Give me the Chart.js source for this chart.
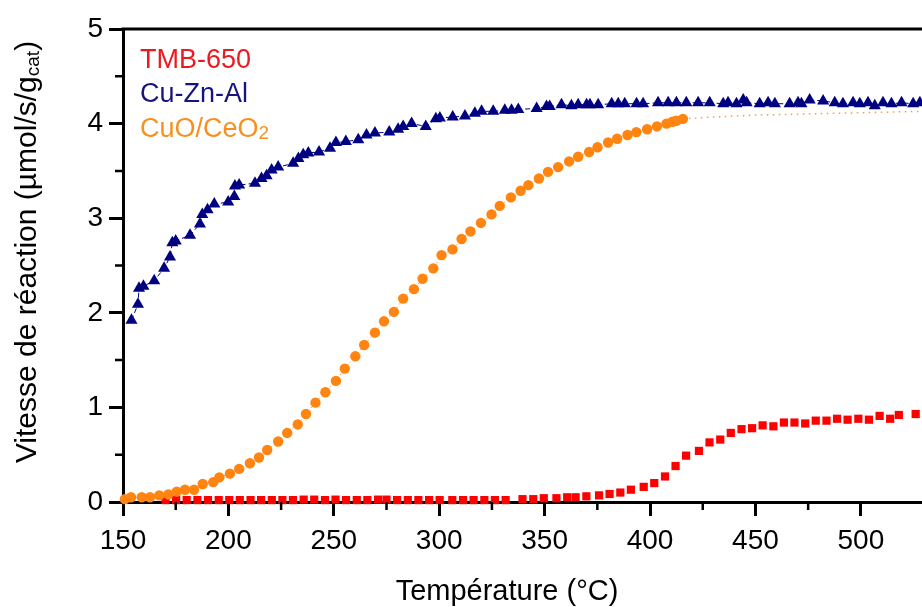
<!DOCTYPE html>
<html>
<head>
<meta charset="utf-8">
<title>Vitesse de réaction</title>
<script src="https://cdn.jsdelivr.net/npm/chart.js@4"></script>
<style>
  html, body { margin: 0; padding: 0; background: #fff; overflow: hidden; }
  #wrap { width: 922px; height: 607px; position: relative; }
</style>
</head>
<body>
<div id="wrap"><canvas id="chart"></canvas></div>
<script>
// axis range and ticks
const xMin = 150, xMax = 529;
const yMin = 0, yMax = 5;
const xMinor = [175, 225, 275, 325, 375, 425, 475];
const yMinor = [0.5, 1.5, 2.5, 3.5, 4.5];

// TMB-650 (red squares)
const tmbT = [170.2, 175.2, 180.2, 185.3, 190.3, 195.4, 200.4, 205.4, 210.5, 215.5, 220.6, 225.6, 230.6, 235.7, 240.7,
  245.8, 250.8, 255.8, 260.9, 265.9, 271, 275, 280, 285.1, 290.1, 295.2, 300.2, 306.2, 311.3, 316.3, 321.4, 326.4,
  331.5, 339.5, 344.6, 349.6, 355.6, 360.7, 364.7, 369.8, 375.8, 380.8, 385.9, 390.9, 397, 402, 407.1, 412.1, 417.1,
  423.2, 428.2, 433.3, 438.3, 443.4, 448.4, 453.4, 458.5, 463.5, 468.5, 473.6, 478.6, 483.7, 488.7, 493.7, 498.8,
  503.8, 508.9, 513.9, 518, 526];
const tmbV = [0.02, 0.02, 0.02, 0.02, 0.02, 0.02, 0.02, 0.02, 0.02, 0.02, 0.02, 0.02, 0.02, 0.025, 0.025,
  0.02, 0.025, 0.02, 0.02, 0.02, 0.025, 0.025, 0.02, 0.02, 0.02, 0.02, 0.02, 0.02, 0.02, 0.02, 0.02, 0.02,
  0.02, 0.03, 0.03, 0.04, 0.04, 0.05, 0.05, 0.06, 0.07, 0.085, 0.10, 0.13, 0.16, 0.20, 0.27, 0.38, 0.49,
  0.54, 0.63, 0.66, 0.73, 0.77, 0.78, 0.81, 0.80, 0.84, 0.84, 0.83, 0.86, 0.86, 0.88, 0.87, 0.88,
  0.87, 0.91, 0.88, 0.92, 0.93];

// Cu-Zn-Al (navy triangles)
const cznT = [154, 157.1, 157.6, 159.7, 164.8, 169.5, 172.3, 173.4, 175, 181.8, 186.5, 187.6, 190.1, 193.3, 199.9,
  202.8, 203.1, 205.1, 212.6, 215.7, 218.1, 220.5, 223.6, 230.7, 233.2, 235.5, 237.9, 243, 248.2, 251,
  255.7, 261.6, 265.5, 269.5, 276.3, 280.5, 282.9, 286.9, 293.6, 298.4, 300.3, 306.4, 312.2, 316.9, 320.1,
  325.6, 331.1, 334.3, 337.5, 346.2, 350.9, 352.4, 358, 362.7, 365.9, 369.9, 371.5, 375.4, 381.8, 384.9,
  388, 393.6, 396.7, 403.8, 408.6, 412.5, 417.2, 422.8, 428.3, 434.7, 437, 441, 444.2, 445.8, 452,
  456, 459.2, 466.2, 470.2, 471.8, 475.7, 482.1, 487.6, 491.5, 496.3, 499.5, 503.4, 506.6, 510.5, 514.5,
  519.3, 524.8, 528];
const cznV = [1.92, 2.09, 2.26, 2.28, 2.34, 2.47, 2.59, 2.74, 2.76, 2.82, 2.94, 3.04, 3.09, 3.15, 3.17,
  3.23, 3.34, 3.35, 3.37, 3.42, 3.45, 3.51, 3.54, 3.58, 3.63, 3.67, 3.69, 3.70, 3.74, 3.80,
  3.81, 3.83, 3.88, 3.90, 3.91, 3.94, 3.97, 4.00, 3.97, 4.05, 4.06, 4.07, 4.08, 4.11, 4.13,
  4.13, 4.14, 4.14, 4.15, 4.16, 4.18, 4.18, 4.20, 4.19, 4.20, 4.20, 4.20, 4.20, 4.21, 4.21,
  4.21, 4.21, 4.21, 4.22, 4.22, 4.22, 4.22, 4.22, 4.22, 4.21, 4.22, 4.21, 4.25, 4.22, 4.21,
  4.22, 4.21, 4.21, 4.22, 4.21, 4.25, 4.24, 4.22, 4.21, 4.22, 4.21, 4.22, 4.19, 4.22, 4.21,
  4.22, 4.21, 4.22];

// CuO/CeO2 (orange circles) and its dotted extension
const cuoT = [150.9, 153.8, 158.9, 162.8, 167.2, 171.5, 175.5, 179.4, 183.7, 187.8, 192.8, 195.7, 200.7, 205.1, 210.2,
  214.5, 218.4, 223.6, 227.9, 232.9, 236.8, 241.3, 246, 251, 255.2, 260.2, 264.4, 269.5, 273.8, 278.5,
  282.9, 288, 292.1, 297.2, 301.1, 306.3, 310.6, 314.8, 319.8, 324.8, 328.7, 334, 338.6, 342.3, 347.3,
  351.6, 356.4, 361.6, 365.9, 371.1, 375.1, 380.1, 384.4, 389.3, 393.5, 398.6, 403.3, 407.8, 410.6, 412.5, 415.6];
const cuoV = [0.03, 0.05, 0.05, 0.05, 0.07, 0.08, 0.11, 0.13, 0.13, 0.19, 0.21, 0.26, 0.30, 0.35, 0.41,
  0.47, 0.55, 0.64, 0.73, 0.82, 0.93, 1.05, 1.16, 1.28, 1.41, 1.54, 1.66, 1.79, 1.91, 2.01,
  2.15, 2.25, 2.36, 2.47, 2.61, 2.67, 2.78, 2.86, 2.95, 3.04, 3.13, 3.22, 3.29, 3.35, 3.42,
  3.49, 3.54, 3.60, 3.65, 3.70, 3.75, 3.80, 3.84, 3.88, 3.91, 3.94, 3.97, 4.00, 4.02, 4.03, 4.05];
const cuoFitT = [415.6, 430, 450, 470, 490, 510, 529];
const cuoFitV = [4.05, 4.07, 4.09, 4.10, 4.11, 4.12, 4.13];

const legendNames = ['TMB-650', 'Cu-Zn-Al', 'CuO/CeO'];
const legendColors = ['#ea1a22', '#15157c', '#f7901e'];

function pts(t, v) {
    return t.map((x, i) => ({ x: x, y: v[i] }));
}

Chart.defaults.font.family = '"Liberation Sans", Arial, sans-serif';
Chart.defaults.color = '#000';

// top frame, minor ticks, axis titles and the in-plot legend
const decor = {
    id: 'decor',
    afterDraw(chart) {
        const { ctx, chartArea: a, scales: { x, y } } = chart;
        ctx.save();
        ctx.strokeStyle = '#000';
        ctx.lineWidth = 3;
        ctx.beginPath();
        ctx.moveTo(a.left - 1.5, a.top);
        ctx.lineTo(a.right, a.top);
        ctx.stroke();

        ctx.lineWidth = 2.5;
        ctx.beginPath();
        xMinor.forEach(v => {
            const px = x.getPixelForValue(v);
            ctx.moveTo(px, a.bottom);
            ctx.lineTo(px, a.bottom + 8);
        });
        yMinor.forEach(v => {
            const py = y.getPixelForValue(v);
            ctx.moveTo(a.left, py);
            ctx.lineTo(a.left - 8, py);
        });
        ctx.stroke();

        // x title
        ctx.fillStyle = '#000';
        ctx.font = '29px "Liberation Sans", Arial, sans-serif';
        ctx.textAlign = 'center';
        ctx.textBaseline = 'middle';
        ctx.fillText('Température (°C)', 507, 592);

        // y title with subscript
        const main = 'Vitesse de réaction (µmol/s/g';
        const big = '30px "Liberation Sans", Arial, sans-serif';
        const small = '19px "Liberation Sans", Arial, sans-serif';
        ctx.font = big;
        const w1 = ctx.measureText(main).width;
        const w3 = ctx.measureText(')').width;
        ctx.font = small;
        const w2 = ctx.measureText('cat').width;
        const total = w1 + w2 + w3;
        ctx.translate(28, 252);
        ctx.rotate(-Math.PI / 2);
        ctx.textAlign = 'left';
        ctx.textBaseline = 'middle';
        let cx = -total / 2;
        ctx.font = big;
        ctx.fillText(main, cx, 0);
        cx += w1;
        ctx.font = small;
        ctx.fillText('cat', cx, 6);
        cx += w2;
        ctx.font = big;
        ctx.fillText(')', cx, 0);
        ctx.setTransform(1, 0, 0, 1, 0, 0);

        // legend
        ctx.textAlign = 'left';
        ctx.textBaseline = 'middle';
        const offs = [32, 66, 101];
        legendNames.forEach((name, i) => {
            ctx.fillStyle = legendColors[i];
            ctx.font = '27px "Liberation Sans", Arial, sans-serif';
            const lx = a.left + 17, ly = a.top + offs[i];
            ctx.fillText(name, lx, ly);
            if (i === 2) {
                const w = ctx.measureText(name).width;
                ctx.font = '19px "Liberation Sans", Arial, sans-serif';
                ctx.fillText('2', lx + w, ly + 4);
            }
        });
        ctx.restore();
    }
};

const axisBase = {
    type: 'linear',
    border: { display: true, color: '#000', width: 3 },
    grid: { display: true, drawOnChartArea: false, drawTicks: true, tickLength: 14, tickWidth: 3, tickColor: '#000' },
};

const ctx = document.getElementById('chart').getContext('2d');
new Chart(ctx, {
    type: 'scatter',
    data: {
        datasets: [
            {
                label: 'CuO/CeO2',
                data: pts(cuoT, cuoV),
                showLine: true,
                borderColor: '#ff8410',
                borderWidth: 1,
                borderDash: [1, 3],
                backgroundColor: '#ff8410',
                pointStyle: 'circle',
                pointRadius: 5.2,
                pointBorderWidth: 0,
                clip: false,
                order: 1
            },
            {
                label: 'CuO/CeO2 fit',
                data: pts(cuoFitT, cuoFitV),
                showLine: true,
                borderColor: '#ff9a3c',
                borderWidth: 1.5,
                borderDash: [1.5, 4.5],
                pointRadius: 0,
                order: 2
            },
            {
                label: 'TMB-650',
                data: pts(tmbT, tmbV),
                backgroundColor: '#ff0000',
                borderColor: '#ff0000',
                pointStyle: 'rect',
                pointRadius: 5.8,
                pointBorderWidth: 0,
                clip: false,
                order: 3
            },
            {
                label: 'Cu-Zn-Al',
                data: pts(cznT, cznV),
                showLine: true,
                borderColor: '#000080',
                borderWidth: 1,
                borderDash: [5, 3],
                backgroundColor: '#000080',
                pointStyle: 'triangle',
                pointRadius: 7,
                pointBorderWidth: 0,
                clip: false,
                order: 4
            }
        ]
    },
    options: {
        responsive: true,
        maintainAspectRatio: false,
        animation: false,
        layout: { autoPadding: false, padding: { top: 29, right: 0, bottom: 0, left: 0 } },
        plugins: {
            legend: { display: false },
            tooltip: { enabled: false }
        },
        scales: {
            x: {
                ...axisBase,
                min: xMin,
                max: xMax,
                ticks: { stepSize: 50, includeBounds: false, padding: 8, font: { size: 28 }, color: '#000' },
                afterFit: scale => { scale.height = 105; }
            },
            y: {
                ...axisBase,
                min: yMin,
                max: yMax,
                ticks: { stepSize: 1, padding: 6, font: { size: 28 }, color: '#000' },
                afterFit: scale => { scale.width = 123; }
            }
        }
    },
    plugins: [decor]
});
</script>
</body>
</html>
